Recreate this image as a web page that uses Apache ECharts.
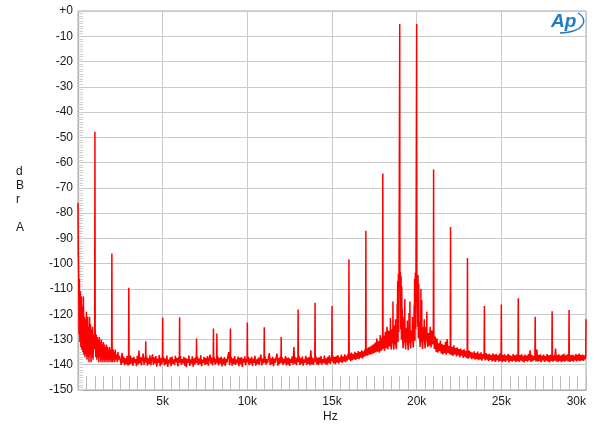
<!DOCTYPE html>
<html>
<head>
<meta charset="utf-8">
<script src="https://cdn.jsdelivr.net/npm/echarts@6/dist/echarts.min.js"></script>
<style>
html,body{margin:0;padding:0;background:#fff;}
#chart{width:600px;height:431px;}
</style>
</head>
<body>
<div id="chart"></div>
<script>
// ---- Data : [frequency Hz, level dBr A] ----
const band0to2k5 = [
[0,-76],[20,-96],[40,-104],[60,-128],[80,-106],[110,-131],[140,-111],[170,-133],[200,-113],[230,-134],
[260,-117],[290,-135],[320,-113],[350,-136],[380,-121],[410,-137],[440,-122],[470,-136],[500,-119],[530,-138],
[560,-121],[590,-137],[620,-125],[650,-139],[680,-121],[710,-136],[740,-124],[770,-139],[800,-126],[830,-137],
[860,-125],[890,-138],[920,-128],[950,-134],[985,-127],[1000,-47.8],[1015,-127],[1050,-137],[1080,-128],[1110,-138],
[1140,-129],[1170,-137],[1200,-130],[1230,-139],[1260,-129],[1290,-137],[1320,-131],[1350,-139],[1380,-130],[1410,-138],
[1440,-132],[1470,-139],[1500,-131],[1530,-138],[1560,-132],[1590,-139],[1620,-133],[1650,-138],[1680,-132],[1710,-139],
[1740,-133],[1770,-138],[1800,-134],[1830,-139],[1860,-133],[1890,-138],[1920,-134],[1950,-139],[1985,-133],[2000,-96],
[2015,-133],[2050,-139],[2080,-134],[2110,-138],[2140,-135],[2170,-139],[2200,-134],[2240,-138],[2280,-136],[2320,-139],
[2360,-135],[2400,-138],[2450,-136.5]
];
const band2k5to5k = [
[2500,-137.2],[2550,-140.1],[2600,-135.3],[2650,-139.4],[2700,-136.8],[2750,-140.2],[2800,-137.5],[2850,-139.8],[2900,-136.6],
[2950,-140.4],[2985,-137.9],[3000,-109.5],[3015,-138.5],[3050,-140],[3100,-136.4],[3150,-139.6],[3200,-137.3],[3250,-140.5],
[3300,-136.9],[3350,-139.2],[3400,-137.8],[3450,-140.6],[3500,-136.5],[3550,-139.9],[3600,-134.4],[3650,-139.5],[3700,-137],
[3750,-140.3],[3800,-137.6],[3850,-135.6],[3900,-140.1],[3950,-137.2],[3985,-139],[4000,-130.7],[4015,-139.2],[4050,-136.7],
[4100,-140.4],[4150,-137.5],[4200,-139.7],[4250,-136.3],[4300,-140.2],[4350,-137.8],[4400,-135.9],[4450,-140],[4500,-137.1],
[4550,-139.5],[4600,-136.6],[4650,-140.8],[4700,-137.7],[4750,-139.3],[4800,-136.2],[4850,-140.6],[4900,-137.4],[4950,-139.9],
[4985,-137],[5000,-121.3],[5015,-138.8]
];
const band5kto10k = [
[5050,-136.9],[5100,-140.3],[5150,-137.6],[5200,-139.8],[5250,-136.4],[5300,-140.9],[5350,-138],[5400,-139.4],[5450,-137.1],
[5500,-140.6],[5550,-136.8],[5600,-139.7],[5650,-137.9],[5700,-140.2],[5750,-136.5],[5800,-139.1],[5850,-137.4],[5900,-140.7],
[5950,-137],[5985,-139.3],[6000,-121.2],[6015,-139],[6050,-136.6],[6100,-140.1],[6150,-137.8],[6200,-139.5],[6250,-136.9],
[6300,-140.4],[6350,-137.3],[6400,-141],[6450,-137.7],[6500,-139.2],[6550,-136.4],[6600,-140.5],[6650,-137.9],[6700,-139.6],
[6750,-136.7],[6800,-140.8],[6850,-137.5],[6900,-139.9],[6950,-137.1],[6985,-139.4],[7000,-129.6],[7015,-139.1],[7050,-136.8],
[7100,-140.2],[7150,-137.6],[7200,-139.7],[7250,-136.3],[7300,-140.6],[7350,-138],[7400,-139.3],[7450,-136.9],[7500,-140.1],
[7550,-137.4],[7600,-139.8],[7650,-136.6],[7700,-140.4],[7750,-137.9],[7800,-136],[7850,-139.6],[7900,-137.2],[7950,-140.3],
[7985,-137.5],[8000,-125.7],[8015,-139],[8050,-137.1],[8100,-140],[8150,-137.8],[8190,-139.2],[8200,-127.6],[8215,-139.5],
[8250,-136.7],[8300,-140.3],[8350,-137.4],[8400,-139.6],[8450,-136.9],[8500,-140.7],[8550,-137.6],[8600,-139.9],[8650,-137],
[8700,-140.5],[8750,-137.7],[8800,-139.1],[8850,-136.8],[8900,-135],[8950,-140.2],[8985,-137.6],[9000,-125.7],[9015,-139.3],
[9050,-136.9],[9100,-140.4],[9150,-137.5],[9200,-139.7],[9250,-136.6],[9300,-140.1],[9350,-137.9],[9400,-139.4],[9450,-136.8],
[9500,-140.6],[9550,-137.3],[9600,-139.8],[9650,-137],[9700,-140.9],[9750,-137.6],[9800,-139.2],[9850,-136.7],[9900,-140.3],
[9950,-137.8],[9985,-139],[10000,-123.3],[10015,-139.1]
];
const band10kto15k = [
[10050,-136.8],[10100,-140.2],[10150,-137.5],[10200,-139.6],[10250,-136.9],[10300,-140.5],[10350,-137.7],[10400,-139.3],
[10450,-136.5],[10500,-140.4],[10550,-137.9],[10600,-139.7],[10650,-137.2],[10700,-140.1],[10750,-137.4],[10800,-136],
[10850,-140.3],[10900,-137.6],[10950,-139.5],[10985,-137.3],[11000,-125.2],[11015,-139.2],[11050,-136.7],[11100,-140],
[11150,-137.8],[11200,-139.4],[11250,-137],[11300,-135.4],[11350,-140.2],[11400,-137.5],[11450,-139.8],[11500,-136.9],
[11550,-140.6],[11600,-137.6],[11650,-139.3],[11700,-137.1],[11750,-135.6],[11800,-140.4],[11850,-137.4],[11900,-139.7],
[11950,-136.8],[11985,-139.1],[12000,-129],[12015,-139.4],[12050,-137],[12100,-140.1],[12150,-137.7],[12200,-139.5],
[12250,-136.6],[12300,-140.3],[12350,-137.3],[12400,-139.9],[12450,-137.2],[12500,-140.5],[12550,-137.8],[12600,-139.2],
[12650,-136.7],[12700,-140],[12750,-133],[12800,-139.6],[12850,-137.1],[12900,-140.2],[12950,-137.5],[12985,-139],
[13000,-118.1],[13015,-138.9],[13050,-136.6],[13100,-140.1],[13150,-137.4],[13200,-139.6],[13250,-136.8],[13300,-140.4],
[13350,-137.9],[13400,-139.2],[13450,-136.5],[13500,-140],[13550,-137.3],[13600,-139.7],[13650,-137],[13700,-140.3],
[13750,-134.3],[13800,-139.8],[13850,-137.2],[13900,-140.1],[13950,-137.6],[13985,-138.9],[14000,-115.5],[14015,-139],
[14050,-136.7],[14100,-139.9],[14150,-137.3],[14200,-140.2],[14250,-137.1],[14300,-139.5],[14350,-136.6],[14400,-140],
[14450,-137.8],[14500,-139.3],[14550,-136.4],[14600,-139.8],[14650,-137.5],[14700,-140.1],[14750,-136.9],[14800,-139.4],
[14850,-136.3],[14900,-139.7],[14950,-137.2],[14985,-138.6],[15000,-116.8],[15015,-138.7]
];
const band15kto18k = [
[15050,-136.4],[15100,-139.5],[15150,-137],[15200,-139.8],[15250,-136.6],[15300,-139.2],[15350,-136.2],[15400,-139.6],
[15450,-137.1],[15500,-138.9],[15550,-136],[15600,-139.3],[15650,-136.8],[15700,-138.7],[15750,-135.9],[15800,-139],
[15850,-136.5],[15900,-138.4],[15950,-135.7],[15985,-137.8],[16000,-98.3],[16015,-138],[16050,-135.6],[16100,-138.6],
[16150,-135.2],[16200,-138.2],[16250,-135.8],[16300,-137.9],[16350,-134.9],[16400,-138.1],[16450,-135.4],[16500,-137.6],
[16550,-134.6],[16600,-137.8],[16650,-135],[16700,-137.2],[16750,-134.3],[16800,-137.5],[16850,-134.7],[16900,-136.8],
[16950,-133.9],[16985,-136.5],[17000,-87],[17015,-136.2],[17050,-133.6],[17100,-136.4],[17150,-133.1],[17200,-136],
[17250,-132.8],[17300,-135.9],[17350,-132.4],[17400,-135.6],[17450,-131.9],[17500,-135.3],[17550,-131.2],[17600,-135],
[17650,-129.6],[17700,-134.8],[17750,-130.7],[17800,-135.2],[17850,-128.2],[17900,-134.5],[17950,-129.5],[17985,-134],
[18000,-64.3],[18015,-133.5]
];
const band18kto21k = [
[18050,-128.5],[18100,-134.5],[18150,-127],[18200,-133.5],[18250,-125],[18300,-134],[18350,-126.5],[18400,-132.8],
[18440,-130],[18450,-121.5],[18460,-131],[18500,-134],[18550,-126],[18590,-131.5],[18600,-115],[18610,-130.8],
[18650,-134],[18700,-124.5],[18740,-132],[18750,-122],[18760,-131],[18800,-133.8],[18840,-127],[18850,-116],
[18860,-128],[18880,-107],[18900,-131],[18920,-104],[18940,-127],[18960,-103],[18990,-103],[19000,-5.1],
[19010,-103],[19040,-104],[19060,-126],[19080,-105],[19100,-130],[19120,-109],[19140,-129],[19150,-118],
[19160,-129],[19200,-133.5],[19240,-127],[19250,-121],[19260,-130],[19290,-131],[19300,-114],[19310,-130],
[19350,-134],[19400,-125.5],[19440,-131],[19450,-122.5],[19460,-130.5],[19500,-134.2],[19540,-128],[19550,-119.5],
[19560,-130],[19590,-131.5],[19600,-115],[19610,-129.8],[19650,-133.6],[19700,-126.5],[19740,-130.5],[19750,-121],
[19760,-129],[19800,-133.2],[19840,-127],[19850,-116.5],[19860,-128],[19880,-106],[19900,-130.5],[19920,-103.5],
[19940,-126],[19960,-102.8],[19990,-102.6],[20000,-5.1],[20010,-102.7],[20040,-103.2],[20060,-125],[20080,-104.5],
[20100,-129.5],[20120,-108],[20140,-128],[20150,-123],[20200,-133],[20240,-127.5],[20250,-110],[20260,-128.5],
[20290,-131],[20300,-114.5],[20310,-130],[20350,-133.8],[20400,-125],[20440,-130.5],[20450,-122],[20460,-130],
[20500,-133.6],[20550,-125],[20590,-130.5],[20600,-119],[20610,-129.5],[20650,-133],[20700,-127.5],[20750,-132.5],
[20800,-125],[20850,-133.2],[20900,-126.5],[20950,-132],[20985,-129],[21000,-62.7],[21015,-130]
];
const band21kto30k = [
[21050,-133.8],[21100,-128.8],[21150,-134.9],[21200,-129.6],[21250,-135.2],[21300,-131.5],[21350,-134.6],[21400,-130.4],
[21450,-135.5],[21500,-131.8],[21550,-135.9],[21600,-132.2],[21650,-135.4],[21700,-130.9],[21750,-136],[21800,-129.8],
[21850,-135.3],[21900,-132.6],[21950,-135.8],[21985,-133.5],[22000,-85.5],[22015,-134],[22050,-136.2],[22100,-132.9],
[22150,-136.5],[22200,-132.3],[22250,-135.9],[22300,-133.4],[22350,-136.7],[22400,-133.1],[22450,-136.3],[22500,-133.8],
[22550,-137],[22600,-133.6],[22650,-136.4],[22700,-134.2],[22750,-137.3],[22800,-133.9],[22850,-136.8],[22900,-134.5],
[22950,-137.4],[22985,-134.8],[23000,-97.8],[23015,-135.2],[23050,-137.6],[23100,-134.4],[23150,-137.1],[23200,-134.9],
[23250,-137.8],[23300,-135.2],[23350,-137.5],[23400,-134.7],[23450,-138],[23500,-135.4],[23550,-137.7],[23600,-134.8],
[23650,-138.2],[23700,-135.6],[23750,-137.9],[23800,-135.1],[23850,-138.4],[23900,-135.8],[23950,-137.6],[23985,-135.5],
[24000,-116.8],[24015,-136],[24050,-138.3],[24100,-135.4],[24150,-138],[24200,-135.9],[24250,-138.6],[24300,-135.7],
[24350,-138.1],[24400,-136.2],[24450,-138.7],[24500,-135.5],[24550,-138.4],[24600,-136],[24650,-138.9],[24700,-135.8],
[24750,-138.2],[24800,-136.3],[24850,-138.8],[24900,-135.6],[24950,-138.5],[24985,-136.4],[25000,-116.2],[25015,-136.8],
[25050,-139],[25100,-136.1],[25150,-138.6],[25200,-135.9],[25250,-138.9],[25300,-136.4],[25350,-138.3],[25400,-135.7],
[25450,-139.1],[25500,-136.2],[25550,-138.5],[25600,-136.6],[25650,-138.8],[25700,-135.8],[25750,-138.4],[25800,-136.3],
[25850,-139],[25900,-136],[25950,-138.6],[25985,-136.5],[26000,-113.7],[26015,-137],[26050,-138.9],[26100,-136.2],
[26150,-138.4],[26200,-135.9],[26250,-138.7],[26300,-136.5],[26350,-139.1],[26400,-136],[26450,-138.5],[26500,-136.4],
[26550,-138.8],[26600,-135.8],[26650,-138.3],[26700,-134.3],[26750,-138.9],[26800,-136.1],[26850,-138.6],[26900,-136.5],
[26950,-138.2],[26985,-136.3],[27000,-121],[27015,-136.9],[27050,-138.7],[27100,-134],[27150,-138.8],[27200,-136.2],
[27250,-138.5],[27300,-135.9],[27350,-139],[27400,-136.4],[27450,-138.3],[27500,-136],[27550,-138.9],[27600,-136.6],
[27650,-138.4],[27700,-135.8],[27750,-138.7],[27800,-136.3],[27850,-139.1],[27900,-136.1],[27950,-138.5],[27985,-136.4],
[28000,-118.8],[28015,-137],[28050,-138.8],[28100,-136.3],[28150,-138.4],[28200,-133.6],[28250,-138.7],[28300,-136.2],
[28350,-138.9],[28400,-135.9],[28450,-138.5],[28500,-136.4],[28550,-139],[28600,-136],[28650,-138.6],[28700,-135.7],
[28750,-138.8],[28800,-136.3],[28850,-138.4],[28900,-135.9],[28950,-138.7],[28985,-136.5],[29000,-118.3],[29015,-137.1],
[29050,-138.9],[29100,-136.2],[29150,-138.5],[29200,-136],[29250,-138.8],[29300,-136.4],[29350,-138.3],[29400,-135.8],
[29450,-138.7],[29500,-136.1],[29550,-138.4],[29600,-135.6],[29650,-138.6],[29700,-136.2],[29750,-138.3],[29800,-136],
[29850,-138.5],[29900,-136.3],[29950,-137.9],[29985,-136.5],[30000,-122]
];
const xTickLabels = {5000:'5k',10000:'10k',15000:'15k',20000:'20k',25000:'25k',30000:'30k'};
const yAxisLetters = ['d','B','r','','A'];

const spectrum = [].concat(band0to2k5, band2k5to5k, band5kto10k, band10kto15k, band15kto18k, band18kto21k, band21kto30k);

const chart = echarts.init(document.getElementById('chart'), null, {renderer:'canvas'});
const labelFont = {fontFamily:'Liberation Sans, Arial, sans-serif', fontSize:12, color:'#1a1a1a'};
chart.setOption({
  animation:false,
  backgroundColor:'#ffffff',
  grid:{left:78, top:11, right:14, bottom:41, show:true, borderColor:'#a8a8a8', borderWidth:1, containLabel:false},
  xAxis:{
    type:'value', min:0, max:30000, interval:5000, position:'bottom',
    axisLine:{show:true, onZero:false, lineStyle:{color:'#a8a8a8'}},
    axisTick:{show:true, inside:true, length:14, lineStyle:{color:'#bdbdbd'}},
    minorTick:{show:true, splitNumber:10, length:14, lineStyle:{color:'#bdbdbd', width:1}},
    splitLine:{show:true, lineStyle:{color:'#cacaca', width:1}},
    axisLabel:Object.assign({margin:6, alignMaxLabel:'right', formatter:v=>xTickLabels[v]||''}, labelFont)
  },
  yAxis:{
    type:'value', min:-150, max:0, interval:10, position:'left',
    axisLine:{show:true, onZero:false, lineStyle:{color:'#a8a8a8'}},
    axisTick:{show:true, inside:true, length:5, lineStyle:{color:'#cacaca'}},
    minorTick:{show:true, splitNumber:10, length:5, lineStyle:{color:'#d0d0d0', width:1}},
    splitLine:{show:true, lineStyle:{color:'#cacaca', width:1}},
    axisLabel:Object.assign({margin:5, formatter:v=> v===0 ? '+0' : String(v)}, labelFont)
  },
  series:[{
    type:'line', data:spectrum, showSymbol:false, sampling:null,
    lineStyle:{color:'#ff0000', width:1.5}, z:5
  }],
  graphic:[
    {type:'text', left:16, top:165, style:{text:yAxisLetters.join('\n'), font:'12px Liberation Sans, Arial, sans-serif', fill:'#1a1a1a', lineHeight:14, align:'center'}},
    {type:'text', left:323, top:411, style:{text:'Hz', font:'12px Liberation Sans, Arial, sans-serif', fill:'#1a1a1a'}},
    {type:'text', left:551, top:12, style:{text:'Ap', font:'italic 600 19px Liberation Sans, Arial, sans-serif', fill:'#1f7bc4'}},
    {type:'bezierCurve', shape:{x1:578, y1:13, cpx1:589, cpy1:19, cpx2:585, cpy2:32, x2:560, y2:33}, style:{stroke:'#1f7bc4', lineWidth:1.4, fill:null}}
  ]
});
</script>
</body>
</html>
